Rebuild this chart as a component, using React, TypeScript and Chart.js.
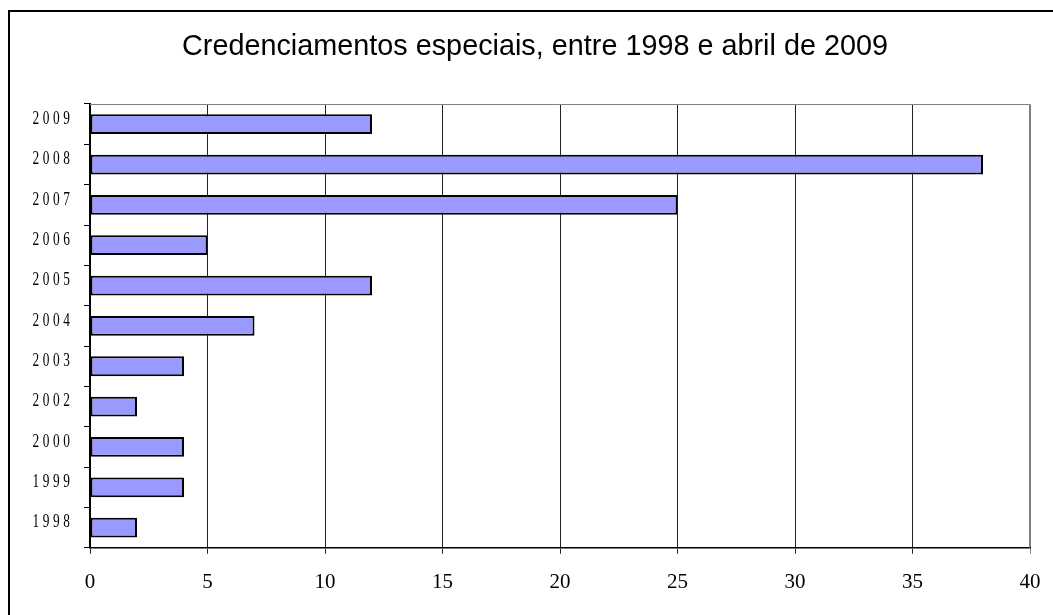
import React, { useEffect, useRef } from "react";
import { Chart, registerables } from "chart.js";

Chart.register(...registerables);

const TITLE = "Credenciamentos especiais, entre 1998 e abril de 2009";
const categories = ["1998", "1999", "2000", "2002", "2003", "2004", "2005", "2006", "2007", "2008", "2009"];
const values = [2, 4, 4, 2, 4, 7, 12, 5, 25, 38, 12];
const xMin = 0;
const xMax = 40;
const xStep = 5;

const decorPlugin = {
  id: "decor",
  beforeDraw(chart: any) {
    const ctx = chart.ctx;
    ctx.save();
    ctx.fillStyle = "#ffffff";
    ctx.fillRect(0, 0, chart.width, chart.height);
    ctx.fillStyle = "#000000";
    ctx.fillRect(8, 10, 2, chart.height - 10);
    ctx.fillRect(8, 10, chart.width - 8, 2);
    ctx.font = '28.8px "Liberation Sans", Arial, sans-serif';
    ctx.textAlign = "center";
    ctx.textBaseline = "middle";
    ctx.fillText(TITLE, 535, 47);
    ctx.restore();
  },
  beforeDatasetsDraw(chart: any) {
    const ctx = chart.ctx;
    const a = chart.chartArea;
    ctx.save();
    ctx.strokeStyle = "#808080";
    ctx.lineWidth = 1;
    ctx.beginPath();
    ctx.moveTo(a.left, a.top + 0.5);
    ctx.lineTo(a.right - 0.5, a.top + 0.5);
    ctx.lineTo(a.right - 0.5, a.bottom);
    ctx.stroke();
    ctx.restore();
  },
  afterDraw(chart: any) {
    const ctx = chart.ctx;
    const ys = chart.scales.y;
    const labels = chart.data.labels as string[];
    ctx.save();
    ctx.fillStyle = "#000000";
    ctx.font = '18px "Liberation Serif", "Times New Roman", serif';
    ctx.textAlign = "left";
    ctx.textBaseline = "middle";
    const sx = 0.74;
    const pitch = 10.3;
    const rightEdge = 70;
    labels.forEach((lab, i) => {
      const y = ys.getPixelForTick(i) - 5;
      const chars = String(lab).split("");
      const lastW = ctx.measureText(chars[chars.length - 1]).width * sx;
      const startX = rightEdge - (chars.length - 1) * pitch - lastW;
      chars.forEach((ch, k) => {
        ctx.save();
        ctx.translate(startX + k * pitch, y);
        ctx.scale(sx, 1);
        ctx.fillText(ch, 0, 0);
        ctx.restore();
      });
    });
    ctx.restore();
  },
};

export default function App() {
  const ref = useRef<HTMLCanvasElement | null>(null);
  useEffect(() => {
    if (!ref.current) return;
    const chart = new Chart(ref.current, {
      type: "bar",
      data: {
        labels: categories,
        datasets: [
          {
            data: values,
            backgroundColor: "#9999FF",
            borderColor: "#000000",
            borderWidth: 2,
            borderSkipped: false,
            barPercentage: 0.49,
            categoryPercentage: 1,
          },
        ],
      },
      options: {
        indexAxis: "y",
        animation: false,
        responsive: false,
        devicePixelRatio: 1,
        layout: { padding: { left: 10, right: 23, top: 104, bottom: 4 } },
        plugins: {
          legend: { display: false },
          title: { display: false },
          tooltip: { enabled: false },
        },
        scales: {
          x: {
            type: "linear",
            min: xMin,
            max: xMax,
            afterFit: (s: any) => {
              s.paddingRight = 0;
              s.paddingLeft = 0;
            },
            ticks: {
              stepSize: xStep,
              color: "#000000",
              font: { family: '"Liberation Serif", "Times New Roman", serif', size: 21 },
              padding: 16,
            },
            grid: {
              color: (c: any) => (c.tick && c.tick.value === xMax ? "#808080" : "#222222"),
              lineWidth: 1,
              tickLength: 6,
              drawTicks: true,
            },
            border: { color: "#000000", width: 1.5 },
          },
          y: {
            type: "category",
            reverse: true,
            afterFit: (s: any) => {
              s.width = 80;
            },
            ticks: { display: false },
            grid: {
              offset: true,
              drawOnChartArea: false,
              drawTicks: true,
              tickLength: 6,
              color: "#000000",
            },
            border: { color: "#000000", width: 2 },
          },
        },
      },
      plugins: [decorPlugin],
    } as any);
    return () => chart.destroy();
  }, []);
  return (
    <div style={{ position: "absolute", left: 0, top: 0, width: 1053, height: 615 }}>
      <canvas ref={ref} width={1053} height={615} style={{ display: "block" }} />
    </div>
  );
}
